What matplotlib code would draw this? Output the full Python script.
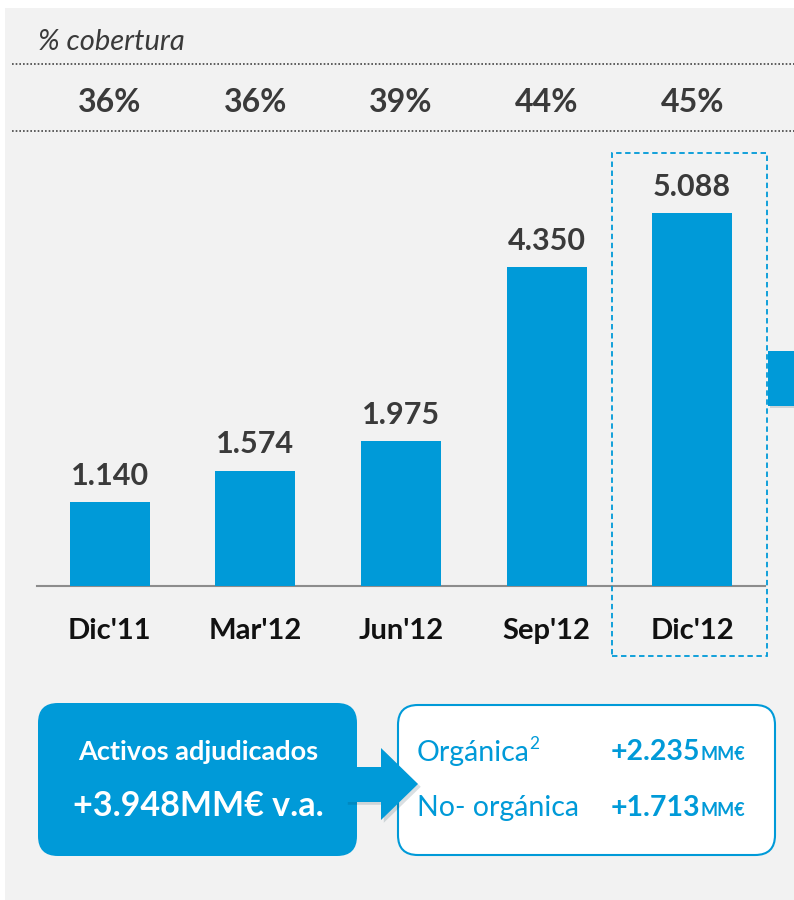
import matplotlib
matplotlib.use("Agg")
import matplotlib.pyplot as plt
from matplotlib.patches import FancyBboxPatch, Rectangle, Polygon
import matplotlib.patheffects as pe

categories = ["Dic'11", "Mar'12", "Jun'12", "Sep'12", "Dic'12"]
values = [1.140, 1.574, 1.975, 4.350, 5.088]
value_labels = ["1.140", "1.574", "1.975", "4.350", "5.088"]
coverage = ["36%", "36%", "39%", "44%", "45%"]

BLUE = "#009ad8"
DARK = "#3a3a3a"
BG = "#f2f2f2"
FONT = ["Lato", "DejaVu Sans"]
plt.rcParams['font.family'] = FONT

W, H = 794, 900
fig = plt.figure(figsize=(W / 100, H / 100), dpi=100)
fig.patch.set_facecolor("white")

def fx(px):
    return px / W

def fy(py):
    return 1 - py / H

# background panel
fig.patches.append(Rectangle((fx(5), 0), 1 - fx(5), fy(8), transform=fig.transFigure,
                             facecolor=BG, edgecolor="none", zorder=-10))

# header
fig.text(fx(38), fy(42), "% cobertura", style="italic", fontsize=21, color=DARK,
         va="center", ha="left")
for yy in (64, 131):
    fig.add_artist(plt.Line2D([fx(12), 1], [fy(yy), fy(yy)], transform=fig.transFigure,
                              color="#444444", lw=1.2, ls=(0, (1, 1.2))))

# bar axes
ax_left, ax_right = 37, 765
ax_bottom, ax_top = 586, 140
ax = fig.add_axes([fx(ax_left), fy(ax_bottom), fx(ax_right - ax_left),
                   (ax_bottom - ax_top) / H])
ax.set_zorder(2)
ax.patch.set_visible(False)
x = list(range(len(categories)))
ax.bar(x, values, width=0.55, color=BLUE, zorder=3)
ax.set_xlim(-0.5, 4.5)
scale = 73.3  # px per unit
ax.set_ylim(0, (ax_bottom - ax_top) / scale)
for s in ("top", "right", "left"):
    ax.spines[s].set_visible(False)
ax.spines["bottom"].set_color("#8c8c8c")
ax.spines["bottom"].set_linewidth(1.5)
ax.set_yticks([])
ax.set_xticks(x)
ax.set_xticklabels(categories, fontsize=21, fontweight="bold", color="#111111")
ax.tick_params(axis="x", length=0, pad=23)
for xi, v, lab in zip(x, values, value_labels):
    ax.annotate(lab, (xi, v), xytext=(0, 9), textcoords="offset points",
                ha="center", va="bottom", fontsize=22, fontweight="bold", color=DARK)

# coverage row aligned with bars
for xi, c in zip(x, coverage):
    px = ax.transData.transform((xi, 0))[0]
    fig.text(px / fig.bbox.width, fy(103), c, ha="center", va="center",
             fontsize=23, fontweight="bold", color=DARK)

# dashed highlight box
fig.patches.append(Rectangle((fx(612), fy(656)), fx(767 - 612), (656 - 153) / H,
                             transform=fig.transFigure, facecolor="none",
                             edgecolor=BLUE, lw=1.3, ls=(0, (3, 2)), zorder=5))
# arrow stub on right
stub = Rectangle((fx(768), fy(406)), fx(794 - 768), (406 - 351) / H,
                 transform=fig.transFigure, facecolor=BLUE, edgecolor="none", zorder=5)
stub.set_path_effects([pe.SimplePatchShadow(offset=(1.5, -1.5), alpha=0.15), pe.Normal()])
fig.patches.append(stub)

# bottom-left blue box
box1 = FancyBboxPatch((fx(38), fy(856)), fx(357 - 38), (856 - 703) / H,
                      boxstyle="round,pad=0,rounding_size=0.025",
                      transform=fig.transFigure, facecolor=BLUE, edgecolor="none",
                      mutation_aspect=W / H, zorder=4)
fig.patches.append(box1)
fig.text(fx(198), fy(752), "Activos adjudicados", ha="center", va="center",
         fontsize=19.5, fontweight="bold", color="white", zorder=6)
fig.text(fx(198), fy(806), "+3.948MM€ v.a.", ha="center", va="center",
         fontsize=24.5, fontweight="bold", color="white", zorder=6)

# bottom-right white box
box2 = FancyBboxPatch((fx(398), fy(855)), fx(775 - 398), (855 - 705) / H,
                      boxstyle="round,pad=0,rounding_size=0.025",
                      transform=fig.transFigure, facecolor="white", edgecolor=BLUE,
                      lw=1.5, mutation_aspect=W / H, zorder=4)
fig.patches.append(box2)

# arrow between boxes
arrow_pts = [(345, 767), (381, 767), (381, 748), (418, 784), (381, 820), (381, 802), (345, 802)]
arrow = Polygon([(fx(px), fy(py)) for px, py in arrow_pts], closed=True,
                transform=fig.transFigure, facecolor=BLUE, edgecolor="none", zorder=5)
arrow.set_path_effects([pe.SimplePatchShadow(offset=(2, -2), alpha=0.15), pe.Normal()])
fig.patches.append(arrow)

fig.text(fx(417), fy(753), "Orgánica", ha="left", va="center", fontsize=20.5,
         color=BLUE, zorder=6)
fig.text(fx(529), fy(744), "2", ha="left", va="center", fontsize=12.5,
         color=BLUE, zorder=6)
fig.text(fx(417), fy(808), "No- orgánica", ha="left", va="center", fontsize=20.5,
         color=BLUE, zorder=6)
for yy, num in ((752, "+2.235"), (808, "+1.713")):
    fig.text(fx(700), fy(yy), num, ha="right", va="center", fontsize=20.5,
             fontweight="bold", color=BLUE, zorder=6)
    fig.text(fx(701), fy(yy + 2), "MM€", ha="left", va="center", fontsize=13,
             fontweight="bold", color=BLUE, zorder=6)

fig.savefig("out.png", dpi=100, facecolor=fig.get_facecolor())
